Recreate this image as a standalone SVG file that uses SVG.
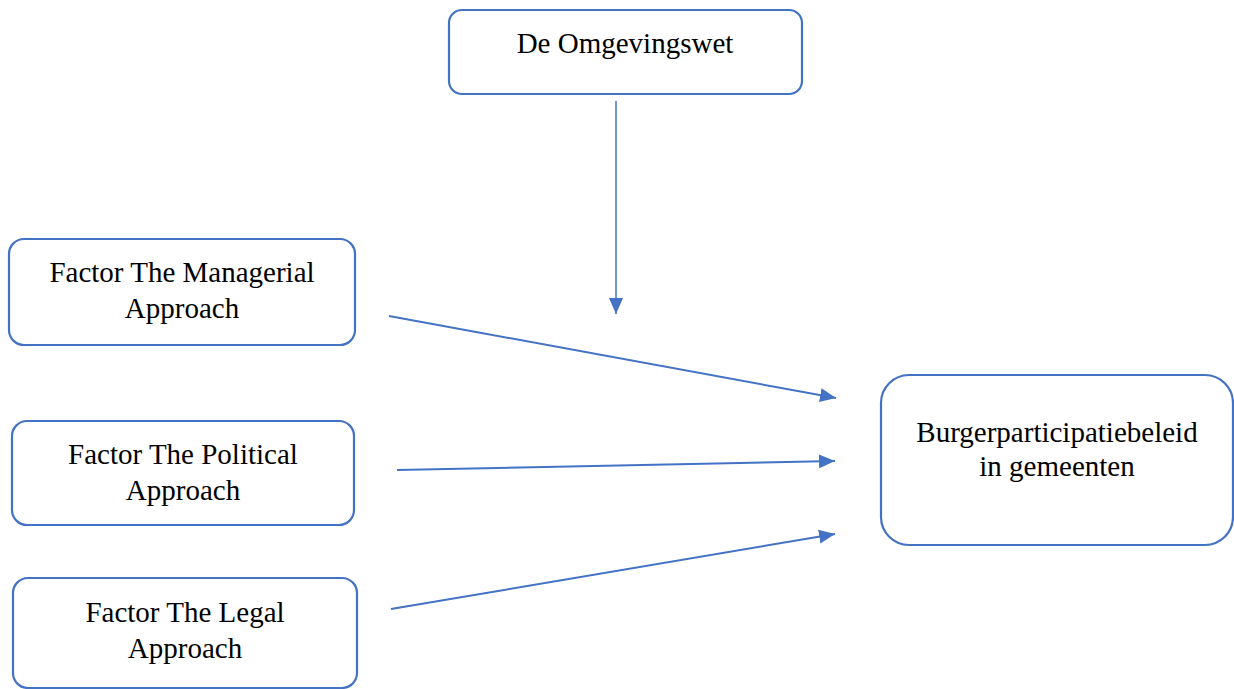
<svg xmlns="http://www.w3.org/2000/svg" width="1234" height="689" viewBox="0 0 1234 689">
<style>
.box{fill:#fff;stroke:#4472C4;stroke-width:2.2}
.t{font-family:"Liberation Serif","Times New Roman",serif;font-size:29px;fill:#000;text-anchor:middle}
.c{stroke:#4472C4;stroke-width:2;fill:none;marker-end:url(#ah)}
</style>
<defs>
<marker id="ah" markerUnits="userSpaceOnUse" markerWidth="16" markerHeight="14" refX="16" refY="7" orient="auto">
<path d="M0,0 L16,7 L0,14 Z" fill="#4472C4"/>
</marker>
</defs>
<rect width="1234" height="689" fill="#fff"/>
<g id="connectors">
<line class="c" x1="616" y1="101" x2="616" y2="314" style="stroke-width:1.5"/>
<line class="c" x1="389" y1="316" x2="836" y2="398"/>
<line class="c" x1="397" y1="470" x2="835" y2="461"/>
<line class="c" x1="391" y1="609" x2="835" y2="534"/>
</g>
<g id="omgevingswet">
<rect class="box" x="449" y="10" width="353" height="84" rx="13"/>
<text class="t" x="625" y="53">De Omgevingswet</text>
</g>
<g id="managerial">
<rect class="box" x="9" y="239" width="346" height="106" rx="15"/>
<text class="t" x="182" y="282">Factor The Managerial</text>
<text class="t" x="182" y="318">Approach</text>
</g>
<g id="political">
<rect class="box" x="12" y="421" width="342" height="104" rx="15"/>
<text class="t" x="183" y="464">Factor The Political</text>
<text class="t" x="183" y="500">Approach</text>
</g>
<g id="legal">
<rect class="box" x="13" y="578" width="344" height="110" rx="15"/>
<text class="t" x="185" y="622">Factor The Legal</text>
<text class="t" x="185" y="658">Approach</text>
</g>
<g id="burger">
<rect class="box" x="881" y="375" width="352" height="170" rx="28"/>
<text class="t" x="1057" y="442">Burgerparticipatiebeleid</text>
<text class="t" x="1057" y="476">in gemeenten</text>
</g>
</svg>
